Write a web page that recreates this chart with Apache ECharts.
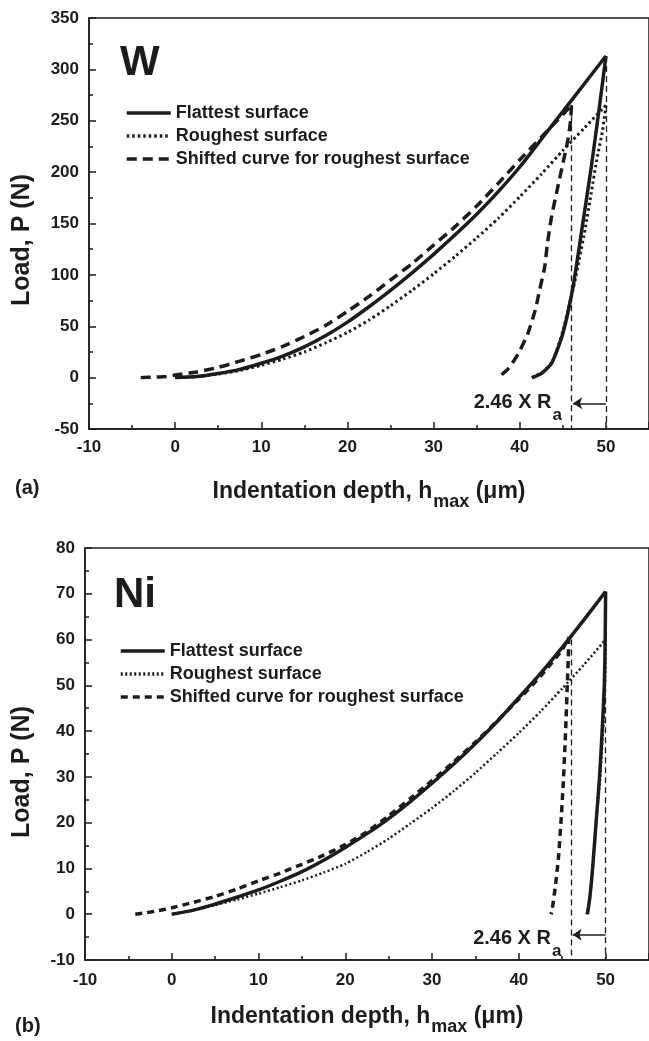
<!DOCTYPE html>
<html>
<head>
<meta charset="utf-8">
<script src="https://cdn.jsdelivr.net/npm/echarts/dist/echarts.min.js"></script>
<style>
  html, body { margin: 0; padding: 0; background: #fff; }
  #chartW { position: absolute; left: 0; top: 0; width: 649px; height: 520px; }
  #chartNi { position: absolute; left: 0; top: 520px; width: 649px; height: 521px; }
</style>
</head>
<body>
<div id="chartW"></div>
<div id="chartNi"></div>
<script>
// 图 (a) W : [depth um, load N]
const wFlatLoad = [[0,0],[2.5,1],[5,4],[7.5,8],[10,14],[12.5,21],[15,30],[17.5,41],[20,54],[22.5,69],[25,85],[27.5,102],[30,120],[32.5,139],[35,159],[37.5,181],[40,205],[42.5,232],[45,259],[47.5,286],[50,313]]
const wFlatUnload = [[50,313],[49.3,267],[48.3,205],[47.15,141],[46.2,89],[45,43],[43.7,14],[42.5,4],[41.4,0]]
const wRoughLoad = [[0,0],[2.5,1],[5,3.5],[7.5,7],[10,12],[12.5,18],[15,25],[17.5,34],[20,44],[22.5,56],[25,70],[27.5,85],[30,101],[32.5,118],[35,136],[37.5,155],[40,176],[42.5,198],[45,221],[47.5,243],[50,265]]
const wRoughUnload = [[50,265],[49.6,240],[49,215],[48.3,180],[47.6,145],[46.9,115],[46.3,90],[45.6,66],[45,45],[43.8,16],[42.6,5],[41.4,0]]
const wShiftLoad = [[-4,0],[-2.5,0.5],[-1,1.2],[0,2.5],[2.5,5.5],[5,10],[7.5,16],[10,22.5],[12.5,30.5],[15,40],[17.5,51],[20,64.5],[22.5,79],[25,95],[27.5,111],[30,129],[32.5,147],[35,167],[37.5,189],[40,212],[42.5,234],[45,256],[46,265]]
const wShiftUnload = [[46,265],[45.9,250],[45.6,232],[45.1,212],[44.4,185],[43.7,157],[43.2,130],[42.9,108],[42.3,85],[41.8,66],[40.9,42],[39.8,23],[38.7,9],[37.5,0]]
const wGuideX = [46, 50]
const wGuideTop = [265, 313]
const wArrow = [[50, -25], [46.2, -25]]
const wNote = [46, -25]

// 图 (b) Ni
const nFlatLoad = [[0,0],[2.5,0.9],[5,2.2],[7.5,3.7],[10,5.3],[12.5,7.2],[15,9.3],[17.5,11.8],[20,14.6],[22.5,17.6],[25,20.9],[27.5,24.6],[30,28.6],[32.5,32.8],[35,37.3],[37.5,42.1],[40,47.3],[42.5,52.6],[45,58.3],[47.5,64.3],[50,70.5]]
const nFlatUnload = [[50,70.5],[49.95,60],[49.85,50],[49.6,40],[49.3,30],[48.9,20],[48.5,10],[48.2,4],[47.9,0]]
const nRoughLoad = [[0,0],[2.5,0.9],[5,2],[7.5,3.2],[10,4.5],[12.5,5.9],[15,7.4],[17.5,9.1],[20,11],[22.5,13.6],[25,16.5],[27.5,19.8],[30,23.2],[32.5,26.9],[35,30.9],[37.5,35.2],[40,39.6],[42.5,44.3],[45,49.3],[47.5,54.5],[50,60]]
const nRoughUnload = [[50,60],[49.95,52],[49.85,45],[49.7,40],[49.45,32],[49.2,26],[48.9,20],[48.5,10],[48.2,4],[47.8,0]]
const nShiftLoad = [[-4.2,0],[-3,0.3],[-1.5,0.8],[0,1.4],[2.5,2.6],[5,3.9],[7.5,5.5],[10,7.3],[12.5,9],[15,10.9],[17.5,12.9],[20,15.2],[22.5,18],[25,21.5],[27.5,25.3],[30,29.2],[32.5,33.3],[35,37.6],[37.5,42.2],[40,47],[42.5,52],[45,57.8],[45.75,60.5]]
const nShiftUnload = [[45.75,60.5],[45.7,56],[45.6,51],[45.45,43],[45.3,36],[45.1,28],[44.85,20],[44.55,12],[44.2,6],[43.8,0.5],[43.7,0]]
const nGuideX = [46, 50]
const nGuideTop = [60, 60.5]
const nArrow = [[50, -4.5], [46.2, -4.5]]
const nNote = [46, -5.5]

const legendNames = ['Flattest surface', 'Roughest surface', 'Shifted curve for roughest surface']

const INK = '#1c1c1c'
const FONT = '"Liberation Sans", Arial, Helvetica, sans-serif'

function curve(name, data, lineStyle) {
  return {
    name: name,
    type: 'line',
    data: data,
    symbol: 'none',
    smooth: 0.2,
    z: 3,
    itemStyle: { color: INK },
    lineStyle: Object.assign({ color: INK }, lineStyle)
  }
}

function buildOption(cfg) {
  const guides = cfg.guideX.map((x, i) => [{ coord: [x, cfg.guideTop[i]] }, { coord: [x, cfg.yMin] }])
  return {
    animation: false,
    textStyle: { fontFamily: FONT },
    grid: {
      left: cfg.left, right: -2, top: cfg.top, bottom: cfg.bottom,
      show: true, borderColor: INK, borderWidth: 1.5
    },
    legend: {
      orient: 'vertical',
      left: cfg.legendLeft,
      top: cfg.legendTop,
      itemWidth: 44,
      itemHeight: 14,
      itemGap: 5,
      data: legendNames,
      itemStyle: { opacity: 0 },
      lineStyle: { width: 3.5 },
      textStyle: { fontFamily: FONT, fontWeight: 'bold', fontSize: 18, color: INK }
    },
    xAxis: {
      type: 'value',
      min: -10, max: 55, interval: 10,
      axisLine: { onZero: false, lineStyle: { color: INK, width: 1.5 } },
      axisTick: { inside: true, length: 7, lineStyle: { color: INK, width: 1.5 } },
      minorTick: { show: true, splitNumber: 2, length: 4, lineStyle: { color: INK, width: 1.5 } },
      splitLine: { show: false },
      axisLabel: { showMaxLabel: false, margin: cfg.xLabelMargin, fontSize: 17, fontWeight: 'bold', color: INK, fontFamily: FONT },
      name: '{n|Indentation depth, h}{s|max}{n| (μm)}',
      nameLocation: 'middle',
      nameGap: cfg.nameGap,
      nameTextStyle: {
        rich: {
          n: { fontSize: 23, fontWeight: 'bold', color: INK, fontFamily: FONT, lineHeight: 26, verticalAlign: 'top' },
          s: { fontSize: 18, fontWeight: 'bold', color: INK, fontFamily: FONT, lineHeight: 20, padding: [13, 0, 0, 1], verticalAlign: 'top' }
        }
      }
    },
    yAxis: {
      type: 'value',
      min: cfg.yMin, max: cfg.yMax, interval: cfg.yStep,
      axisLine: { onZero: false, lineStyle: { color: INK, width: 1.5 } },
      axisTick: { inside: true, length: 7, lineStyle: { color: INK, width: 1.5 } },
      minorTick: { show: true, splitNumber: 2, length: 4, lineStyle: { color: INK, width: 1.5 } },
      splitLine: { show: false },
      axisLabel: { margin: 10, fontSize: 17, fontWeight: 'bold', color: INK, fontFamily: FONT }
    },
    graphic: [
      {
        type: 'text', x: 22, y: cfg.yTitleY, rotation: Math.PI / 2,
        style: { text: 'Load, P (N)', fontSize: 25, fontWeight: 'bold', fontFamily: FONT, fill: INK, textAlign: 'center', textVerticalAlign: 'middle' }
      },
      {
        type: 'text', x: 15, y: cfg.panelY,
        style: { text: cfg.panel, fontSize: 20, fontWeight: 'bold', fontFamily: FONT, fill: INK, textAlign: 'left', textVerticalAlign: 'middle' }
      },
      {
        type: 'text', x: cfg.metalX, y: cfg.metalY,
        style: { text: cfg.metal, fontSize: 42, fontWeight: 'bold', fontFamily: FONT, fill: INK, textAlign: 'left', textVerticalAlign: 'middle' }
      }
    ],
    series: [
      curve(legendNames[0], cfg.flatLoad, { width: 3.5, type: 'solid' }),
      curve(legendNames[0], cfg.flatUnload, { width: 3.5, type: 'solid' }),
      curve(legendNames[1], cfg.roughLoad, cfg.dotStyle),
      curve(legendNames[1], cfg.roughUnload, cfg.dotStyle),
      curve(legendNames[2], cfg.shiftLoad, cfg.dashStyle),
      curve(legendNames[2], cfg.shiftUnload, cfg.dashStyle),
      {
        type: 'line', data: [], z: 2,
        markLine: {
          silent: true, animation: false, symbol: ['none', 'none'],
          label: { show: false },
          lineStyle: { color: INK, width: 1.3, type: [6, 4] },
          data: guides
        }
      },
      {
        type: 'line', data: [], z: 2,
        markLine: {
          silent: true, animation: false, symbol: ['none', 'arrow'], symbolSize: 9,
          label: { show: false },
          lineStyle: { color: INK, width: 1.5, type: 'solid' },
          data: [[{ coord: cfg.arrow[0] }, { coord: cfg.arrow[1] }]]
        }
      },
      {
        type: 'scatter', data: [cfg.note], symbolSize: 1, silent: true, z: 4,
        itemStyle: { color: 'rgba(0,0,0,0)' },
        label: {
          show: true, position: 'left', distance: 9,
          color: INK, opacity: 1, textBorderWidth: 0,
          formatter: '{t|2.46 X R}{s|a}',
          rich: {
            t: { fontSize: 20, fontWeight: 'bold', color: INK, opacity: 1, fontFamily: FONT, lineHeight: 22, verticalAlign: 'top' },
            s: { fontSize: 17, fontWeight: 'bold', color: INK, opacity: 1, fontFamily: FONT, lineHeight: 18, padding: [14, 0, 0, 1], verticalAlign: 'top' }
          }
        }
      }
    ]
  }
}

const chartW = echarts.init(document.getElementById('chartW'))
chartW.setOption(buildOption({
  left: 89, top: 18, bottom: 91,
  yMin: -50, yMax: 350, yStep: 50,
  xLabelMargin: 10, nameGap: 51,
  legendLeft: 120, legendTop: 99,
  yTitleY: 240, panel: '(a)', panelY: 488,
  metal: 'W', metalX: 120, metalY: 63,
  flatLoad: wFlatLoad, flatUnload: wFlatUnload,
  roughLoad: wRoughLoad, roughUnload: wRoughUnload,
  shiftLoad: wShiftLoad, shiftUnload: wShiftUnload,
  dotStyle: { width: 3, type: [2.5, 3] },
  dashStyle: { width: 3.5, type: [10, 6] },
  guideX: wGuideX, guideTop: wGuideTop, arrow: wArrow, note: wNote
}))

const chartNi = echarts.init(document.getElementById('chartNi'))
chartNi.setOption(buildOption({
  left: 85, top: 28, bottom: 79,
  yMin: -10, yMax: 80, yStep: 10,
  xLabelMargin: 12, nameGap: 45,
  legendLeft: 114, legendTop: 117,
  yTitleY: 252, panel: '(b)', panelY: 506,
  metal: 'Ni', metalX: 114, metalY: 75,
  flatLoad: nFlatLoad, flatUnload: nFlatUnload,
  roughLoad: nRoughLoad, roughUnload: nRoughUnload,
  shiftLoad: nShiftLoad, shiftUnload: nShiftUnload,
  dotStyle: { width: 2.5, type: [2, 2.5] },
  dashStyle: { width: 3.5, type: [7, 5] },
  guideX: nGuideX, guideTop: nGuideTop, arrow: nArrow, note: nNote
}))
</script>
</body>
</html>
